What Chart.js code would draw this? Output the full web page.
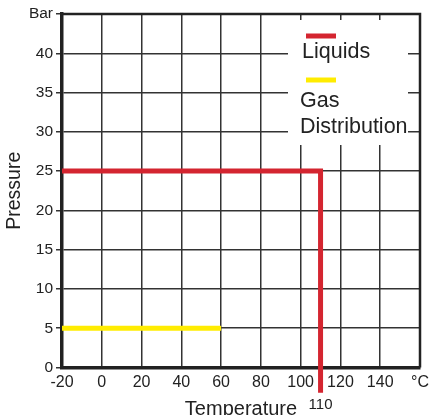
<!DOCTYPE html>
<html>
<head>
<meta charset="utf-8">
<script src="https://cdn.jsdelivr.net/npm/chart.js@4"></script>
<style>
  html, body { margin: 0; padding: 0; background: #fff; overflow: hidden; }
  #wrap { width: 429px; height: 421px; }
</style>
</head>
<body>
<div id="wrap"><canvas id="chart"></canvas></div>
<script>
// Chart data
const liquidsX = [-20, 110, 110];
const liquidsY = [25, 25, -3.2];
const gasX = [-20, 60];
const gasY = [5, 5];
const xTicks = [-20, 0, 20, 40, 60, 80, 100, 120, 140, 160];
const yTicks = [0, 5, 10, 15, 20, 25, 30, 35, 40, 45];
const seriesNames = ["Liquids", "Gas Distribution"];
const markedTemp = 110;

const FONT = "'Liberation Sans', Arial, sans-serif";
const RED = "#d42530";
const YELLOW = "#ffec00";

function toPoints(xs, ys) {
  return xs.map((x, i) => ({ x: x, y: ys[i] }));
}

// Top/right frame, legend box and the "110" marker under the axis
const decorPlugin = {
  id: "decor",
  beforeDatasetsDraw(chart) {
    const { ctx, chartArea } = chart;
    ctx.save();
    ctx.fillStyle = "#fff";
    ctx.fillRect(chartArea.left + 226, chartArea.top + 6, 120, 125);
    ctx.restore();
  },
  afterDatasetsDraw(chart) {
    const { ctx, chartArea, scales } = chart;
    ctx.save();
    ctx.strokeStyle = "#222";
    ctx.lineWidth = 2.5;
    ctx.beginPath();
    ctx.moveTo(chartArea.left, chartArea.top);
    ctx.lineTo(chartArea.right, chartArea.top);
    ctx.lineTo(chartArea.right, chartArea.bottom);
    ctx.stroke();

    // legend
    const lx = chartArea.left + 244;
    ctx.lineWidth = 5;
    ctx.strokeStyle = RED;
    ctx.beginPath();
    ctx.moveTo(lx, chartArea.top + 22);
    ctx.lineTo(lx + 30, chartArea.top + 22);
    ctx.stroke();
    ctx.strokeStyle = YELLOW;
    ctx.beginPath();
    ctx.moveTo(lx, chartArea.top + 66);
    ctx.lineTo(lx + 30, chartArea.top + 66);
    ctx.stroke();

    ctx.fillStyle = "#222";
    ctx.font = "21.5px " + FONT;
    ctx.textBaseline = "alphabetic";
    ctx.textAlign = "left";
    ctx.fillText(seriesNames[0], lx - 4, chartArea.top + 44);
    const parts = seriesNames[1].split(" ");
    ctx.fillText(parts[0], lx - 6, chartArea.top + 93);
    ctx.fillText(parts[1], lx - 6, chartArea.top + 119);

    // 110 marker
    ctx.font = "15px " + FONT;
    ctx.textAlign = "center";
    ctx.textBaseline = "middle";
    ctx.fillText(String(markedTemp), scales.x.getPixelForValue(markedTemp), 405);
    ctx.restore();
  }
};

new Chart(document.getElementById("chart"), {
  type: "scatter",
  data: {
    datasets: [
      {
        label: seriesNames[0],
        data: toPoints(liquidsX, liquidsY),
        showLine: true,
        borderColor: RED,
        borderWidth: 5,
        pointRadius: 0,
        borderCapStyle: "butt",
        borderJoinStyle: "miter",
        clip: false
      },
      {
        label: seriesNames[1],
        data: toPoints(gasX, gasY),
        showLine: true,
        borderColor: YELLOW,
        borderWidth: 5,
        pointRadius: 0,
        borderCapStyle: "butt",
        clip: false
      }
    ]
  },
  options: {
    responsive: true,
    maintainAspectRatio: false,
    animation: false,
    layout: { padding: { top: 14, right: 9, left: 0, bottom: 0 } },
    plugins: {
      legend: { display: false },
      tooltip: { enabled: false }
    },
    scales: {
      x: {
        type: "linear",
        min: xTicks[0],
        max: xTicks[xTicks.length - 1],
        afterBuildTicks: (axis) => { axis.ticks = xTicks.map(v => ({ value: v })); },
        afterFit: (axis) => {
          axis.height = 53.5;
          axis.paddingLeft = 0;
          axis.paddingRight = 0;
        },
        border: { color: "#222", width: 3.5 },
        grid: { color: "#333", lineWidth: 1.5, drawTicks: false },
        ticks: {
          color: "#222",
          font: { family: FONT, size: 16 },
          padding: 5,
          maxRotation: 0,
          callback: (v) => (v === 160 ? "°C" : v)
        },
        title: {
          display: true,
          text: "Temperature",
          color: "#222",
          font: { family: FONT, size: 20 },
          padding: { top: 0, bottom: 0 }
        }
      },
      y: {
        type: "linear",
        min: yTicks[0],
        max: yTicks[yTicks.length - 1],
        afterBuildTicks: (axis) => { axis.ticks = yTicks.map(v => ({ value: v })); },
        afterFit: (axis) => {
          axis.width = 62;
          axis.paddingTop = 0;
          axis.paddingBottom = 0;
        },
        border: { color: "#222", width: 3.5 },
        grid: { color: "#333", lineWidth: 1.5, tickLength: 6, tickColor: "#333" },
        ticks: {
          color: "#222",
          font: { family: FONT, size: 15.5 },
          padding: 3,
          callback: (v) => (v === 45 ? "Bar" : v)
        },
        title: {
          display: true,
          text: "Pressure",
          color: "#222",
          font: { family: FONT, size: 19.5 },
          padding: { top: 3, bottom: 0 }
        }
      }
    }
  },
  plugins: [decorPlugin]
});
</script>
</body>
</html>
